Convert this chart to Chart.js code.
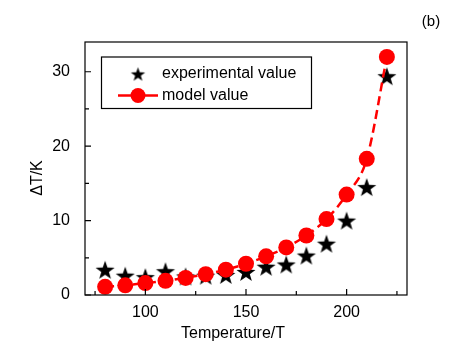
<!DOCTYPE html>
<html lang="en">
<head>
<meta charset="UTF-8">
<title>Delta T vs Temperature</title>
<script src="https://cdn.jsdelivr.net/npm/chart.js"></script>
<style>
  html, body { margin: 0; padding: 0; background: #fff; }
  #wrap { width: 472px; height: 354px; }
</style>
</head>
<body>
<div id="wrap"><canvas id="chart" width="472" height="354"></canvas></div>
<script>
// data
const temps = [80, 90, 100, 110, 120, 130, 140, 150, 160, 170, 180, 190, 200, 210, 220];
const experimental = [3.4, 2.6, 2.4, 3.2, 2.5, 2.6, 2.7, 3.1, 3.8, 4.1, 5.3, 6.9, 10.0, 14.5, 29.4];
const model = [1.1, 1.3, 1.6, 1.9, 2.3, 2.8, 3.4, 4.2, 5.2, 6.4, 8.0, 10.2, 13.5, 18.3, 32.0];
const xTicks = [100, 150, 200];
const xMinor = [75, 125, 175, 225];
const yTicks = [0, 10, 20, 30];
const yMinor = [5, 15, 25];

const FONT = '"Liberation Sans", Arial, sans-serif';

// filled five-point star used as point marker
function makeStar(r) {
    const c = document.createElement('canvas');
    const s = Math.ceil(r * 2 + 2);
    c.width = s; c.height = s;
    const g = c.getContext('2d');
    g.translate(s / 2, s / 2 + r * 0.1);
    g.beginPath();
    for (let i = 0; i < 10; i++) {
        const rad = i % 2 === 0 ? r : r * 0.4;
        const a = -Math.PI / 2 + i * Math.PI / 5;
        g.lineTo(rad * Math.cos(a), rad * Math.sin(a));
    }
    g.closePath();
    g.fillStyle = '#000';
    g.fill();
    return c;
}
const star = makeStar(10);
const legendStar = makeStar(7.5);

const framePlugin = {
    id: 'frame',
    afterDraw(chart) {
        const { ctx, chartArea: a, scales } = chart;
        const x = scales.x, y = scales.y;
        ctx.save();
        ctx.strokeStyle = '#000';
        ctx.lineWidth = 1.2;
        ctx.strokeRect(a.left, a.top, a.right - a.left, a.bottom - a.top);

        // inward ticks on bottom and left
        ctx.beginPath();
        xTicks.forEach(v => { const p = x.getPixelForValue(v); ctx.moveTo(p, a.bottom); ctx.lineTo(p, a.bottom - 6); });
        xMinor.forEach(v => { const p = x.getPixelForValue(v); ctx.moveTo(p, a.bottom); ctx.lineTo(p, a.bottom - 4); });
        yTicks.forEach(v => { const p = y.getPixelForValue(v); ctx.moveTo(a.left, p); ctx.lineTo(a.left + 6, p); });
        yMinor.forEach(v => { const p = y.getPixelForValue(v); ctx.moveTo(a.left, p); ctx.lineTo(a.left + 4, p); });
        ctx.stroke();

        // axis titles
        ctx.fillStyle = '#000';
        ctx.font = '16px ' + FONT;
        ctx.textAlign = 'center';
        ctx.textBaseline = 'middle';
        ctx.fillText('Temperature/T', 233, 334);
        ctx.save();
        ctx.translate(38, 178);
        ctx.rotate(-Math.PI / 2);
        ctx.fillText('\u0394T/K', 0, 0);
        ctx.restore();

        // panel label
        ctx.font = '15px ' + FONT;
        ctx.fillText('(b)', 431, 22);

        // legend box
        ctx.lineWidth = 1.2;
        ctx.strokeRect(101.5, 57, 210, 51.5);
        ctx.drawImage(legendStar, 138 - legendStar.width / 2, 74 - legendStar.height / 2);
        ctx.strokeStyle = '#ff0000';
        ctx.lineWidth = 2.5;
        ctx.beginPath();
        ctx.moveTo(118, 95.5); ctx.lineTo(158, 95.5);
        ctx.stroke();
        ctx.fillStyle = '#ff0000';
        ctx.beginPath();
        ctx.arc(138, 95.5, 7.5, 0, Math.PI * 2);
        ctx.fill();
        ctx.fillStyle = '#000';
        ctx.font = '16px ' + FONT;
        ctx.textAlign = 'left';
        ctx.fillText('experimental value', 162, 74);
        ctx.fillText('model value', 162, 96);
        ctx.restore();
    }
};

new Chart(document.getElementById('chart'), {
    type: 'scatter',
    data: {
        datasets: [
            {
                label: 'model value',
                data: temps.map((t, i) => ({ x: t, y: model[i] })),
                showLine: true,
                borderColor: '#ff0000',
                borderWidth: 2.5,
                borderDash: [9, 5],
                cubicInterpolationMode: 'monotone',
                pointStyle: 'circle',
                pointRadius: 8,
                pointBackgroundColor: '#ff0000',
                pointBorderColor: '#ff0000',
                pointBorderWidth: 0,
                order: 0
            },
            {
                label: 'experimental value',
                data: temps.map((t, i) => ({ x: t, y: experimental[i] })),
                showLine: false,
                pointStyle: star,
                pointRadius: 10,
                order: 1
            }
        ]
    },
    options: {
        responsive: false,
        animation: false,
        events: [],
        layout: { padding: { left: 0, right: 65, top: 42, bottom: 0 } },
        plugins: { legend: { display: false }, tooltip: { enabled: false } },
        scales: {
            x: {
                type: 'linear',
                min: 70, max: 230,
                afterBuildTicks(s) { s.ticks = xTicks.map(v => ({ value: v })); },
                afterFit(s) { s.height = 59; },
                grid: { display: false },
                border: { display: false },
                ticks: { color: '#000', font: { family: FONT, size: 16 }, padding: 0, maxRotation: 0 }
            },
            y: {
                min: 0, max: 34,
                afterBuildTicks(s) { s.ticks = yTicks.map(v => ({ value: v })); },
                afterFit(s) { s.width = 85; },
                grid: { display: false },
                border: { display: false },
                ticks: { color: '#000', font: { family: FONT, size: 16 }, padding: 7 }
            }
        }
    },
    plugins: [framePlugin]
});
</script>
</body>
</html>
